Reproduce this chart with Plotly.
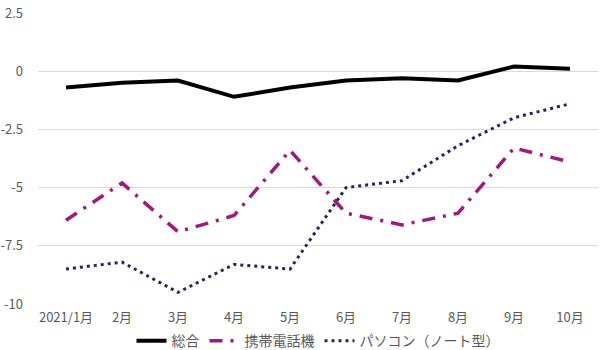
import plotly.graph_objects as go

months = ["2021/1月", "2月", "3月", "4月", "5月", "6月", "7月", "8月", "9月", "10月"]
total = [-0.7, -0.5, -0.4, -1.1, -0.7, -0.4, -0.3, -0.4, 0.2, 0.1]
mobile = [-6.4, -4.8, -6.9, -6.2, -3.4, -6.1, -6.6, -6.1, -3.3, -3.9]
laptop = [-8.5, -8.2, -9.5, -8.3, -8.5, -5.0, -4.7, -3.2, -2.0, -1.4]

y_ticks = [2.5, 0, -2.5, -5, -7.5, -10]
y_tick_text = ["2.5", "0", "-2.5", "-5", "-7.5", "-10"]

font_family = "Noto Sans CJK JP"
text_gray = "#595959"

fig = go.Figure()
fig.add_trace(go.Scatter(
    x=months, y=total, name="総合", mode="lines",
    line=dict(color="#000000", width=4),
))
fig.add_trace(go.Scatter(
    x=months, y=mobile, name="携帯電話機", mode="lines",
    line=dict(color="#a0197d", width=3.5, dash="13px,8px,3px,8px"),
))
fig.add_trace(go.Scatter(
    x=months, y=laptop, name="パソコン（ノート型）", mode="lines",
    line=dict(color="#1c2a5a", width=3, dash="3px,4px"),
))

fig.update_layout(
    width=600, height=350,
    margin=dict(l=38, r=2, t=13, b=46, autoexpand=False),
    paper_bgcolor="white", plot_bgcolor="white",
    font=dict(family=font_family, size=13, color=text_gray),
    legend=dict(
        orientation="h", x=0.5, xanchor="center",
        yref="container", y=0.025, yanchor="middle",
        font=dict(size=14, color=text_gray), itemwidth=30,
    ),
    showlegend=True,
)
fig.update_xaxes(
    type="category", range=[-0.5, 9.5], showgrid=False, showline=False,
    zeroline=False, ticks="", tickfont=dict(size=13, color=text_gray),
    ticklabelstandoff=4,
)
fig.update_yaxes(
    range=[-10, 2.5], tickvals=y_ticks, ticktext=y_tick_text,
    showgrid=True, gridcolor="#d9d9d9", gridwidth=1, zeroline=False,
    showline=False, ticks="", tickfont=dict(size=13, color=text_gray),
    ticklabelstandoff=14,
)

fig.write_html("out.html")
